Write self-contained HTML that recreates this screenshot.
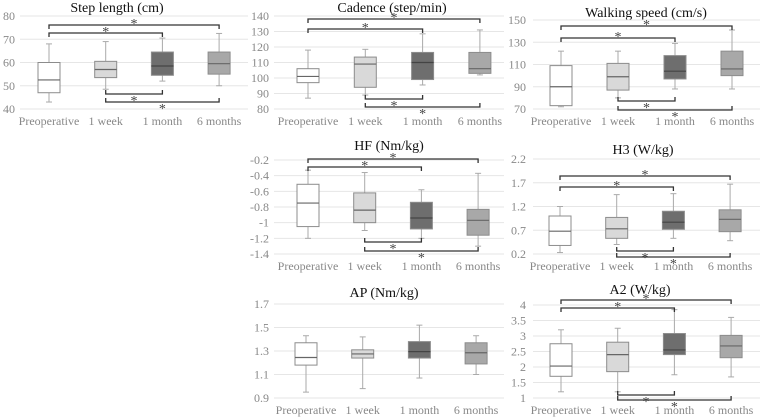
<!DOCTYPE html>
<html><head><meta charset="utf-8"><style>
body{margin:0;background:#fff;}
svg{display:block;}
svg text{font-family:"Times New Roman","Liberation Serif","Tinos","DejaVu Serif",serif;}
</style></head><body>
<svg id="c" width="762" height="419"></svg>
<script>
const categories=["Preoperative","1 week","1 month","6 months"];
// per panel: [min, q1, median, q3, max] per category
const stepLen=[[43,47,52.5,60,68],[48.5,53.5,57,60.5,69],[52,54.5,58.5,64.5,70.5],[50,55,59.5,64.5,72.5]];
const cadence=[[87,97,101,106,118],[89,94,109,113.5,118.5],[95.5,99,110,116.5,128.5],[102,103,106,116.5,131]];
const speed=[[72,73,90,109,122],[80,87,99,111,122],[88,97,104,118,129],[88,100,106,122,141]];
const hf=[[-1.2,-1.05,-0.75,-0.51,-0.33],[-1.1,-1.0,-0.84,-0.62,-0.36],[-1.2,-1.08,-0.94,-0.74,-0.58],[-1.3,-1.16,-0.97,-0.83,-0.37]];
const h3=[[0.23,0.38,0.68,1.0,1.2],[0.4,0.53,0.73,0.97,1.45],[0.53,0.72,0.87,1.1,1.47],[0.48,0.67,0.93,1.13,1.67]];
const ap=[[0.95,1.18,1.245,1.37,1.43],[0.98,1.24,1.275,1.31,1.42],[1.07,1.24,1.295,1.38,1.52],[1.1,1.19,1.285,1.37,1.43]];
const a2=[[1.2,1.7,2.03,2.75,3.2],[1.2,1.85,2.4,2.8,3.25],[1.75,2.4,2.55,3.08,3.85],[1.68,2.3,2.68,3.02,3.6]];
const ticksStep=[40,50,60,70,80];
const ticksCad=[80,90,100,110,120,130,140];
const ticksSpeed=[70,90,110,130,150];
const ticksHF=[-1.4,-1.2,-1,-0.8,-0.6,-0.4,-0.2];
const ticksH3=[0.2,0.7,1.2,1.7,2.2];
const ticksAP=[0.9,1.1,1.3,1.5,1.7];
const ticksA2=[1,1.5,2,2.5,3,3.5,4];
const fills=["#ffffff","#d9d9d9","#6e6e6e","#a8a8a8"];

const panels=[
 {name:"step-length",title:"Step length (cm)",data:stepLen,ticks:ticksStep,x0:49,dx:56.7,yTop:16,yBot:109,tx:117,ty:11,gl:20,gr:248,lx:15,
  br:[[0,3,25,1],[0,2,33,1],[1,2,94,0],[1,3,102,0]]},
 {name:"cadence",title:"Cadence (step/min)",data:cadence,ticks:ticksCad,x0:308,dx:57.3,yTop:16,yBot:109,tx:392,ty:11,gl:274,gr:504,lx:269,
  br:[[0,3,19,1],[0,2,29,1],[1,2,99,0],[1,3,107,0]]},
 {name:"walking-speed",title:"Walking speed (cm/s)",data:speed,ticks:ticksSpeed,x0:561,dx:57,yTop:20,yBot:109,tx:646,ty:16,gl:533,gr:760,lx:526,
  br:[[0,3,26,1],[0,2,38,1],[1,2,101,0],[1,3,110,0]]},
 {name:"hf",title:"HF (Nm/kg)",data:hf,ticks:ticksHF,x0:308,dx:56.7,yTop:160,yBot:254,tx:389,ty:149,gl:274,gr:504,lx:269,
  br:[[0,3,159,1],[0,2,167,1],[1,2,242,0],[1,3,251,0]]},
 {name:"h3",title:"H3 (W/kg)",data:h3,ticks:ticksH3,x0:560,dx:56.7,yTop:159,yBot:254,tx:643,ty:153,gl:533,gr:760,lx:526,
  br:[[0,3,176,1],[0,2,187,1],[1,2,251,0],[1,3,257,0]]},
 {name:"ap",title:"AP (Nm/kg)",data:ap,ticks:ticksAP,x0:306,dx:56.7,yTop:304,yBot:398,tx:384,ty:296,gl:274,gr:504,lx:269,br:[]},
 {name:"a2",title:"A2 (W/kg)",data:a2,ticks:ticksA2,x0:561,dx:56.7,yTop:305,yBot:398,tx:640,ty:293,gl:533,gr:760,lx:526,
  br:[[0,3,300,1],[0,2,308,1],[1,2,395,0],[1,3,400,0]]}
];
const svg=document.getElementById('c');
const NS="http://www.w3.org/2000/svg";
function mk(tag,attrs,parent){const e=document.createElementNS(NS,tag);for(const k in attrs)e.setAttribute(k,attrs[k]);parent.appendChild(e);return e;}
panels.forEach(p=>{
 const g=mk('g',{},svg);
 
 
 const t0=p.ticks[0],t1=p.ticks[p.ticks.length-1];
 const y=v=>p.yBot-(v-t0)/(t1-t0)*(p.yBot-p.yTop);
 const x=i=>p.x0+i*p.dx;
 const tt=mk('text',{x:p.tx,y:p.ty+1,'text-anchor':'middle','font-size':14,fill:'#111'},g);tt.textContent=p.title;
 
 
 p.ticks.forEach(v=>{
  const gl=mk('line',{x1:p.gl,x2:p.gr,y1:y(v),y2:y(v),stroke:'#e6e6e6','stroke-width':1},g);
  
  
  const tl=mk('text',{x:p.lx,y:y(v)+4,'text-anchor':'end','font-size':12,fill:'#888'},g);tl.textContent=String(v);
  
  
 });
 p.data.forEach((d,i)=>{
  const cx=x(i),w=22;
  const wh=mk('line',{x1:cx,x2:cx,y1:y(d[0]),y2:y(d[4]),stroke:'#aaa','stroke-width':1},g);
  
  
  [d[0],d[4]].forEach(v=>{const c=mk('line',{x1:cx-3,x2:cx+3,y1:y(v),y2:y(v),stroke:'#aaa'},g);
   
   });
  const b=mk('rect',{x:cx-w/2,y:y(d[3]),width:w,height:y(d[1])-y(d[3]),fill:fills[i],stroke:'#8c8c8c','stroke-width':1},g);
  
  
  const m=mk('line',{x1:cx-w/2,x2:cx+w/2,y1:y(d[2]),y2:y(d[2]),stroke:i==2?'#444':'#666','stroke-width':1.2},g);
  
  
  const cl=mk('text',{x:cx,y:p.yBot+16,'text-anchor':'middle','font-size':12,fill:'#888'},g);cl.textContent=categories[i];
  
  
 });
 p.br.forEach(b=>{
  const xa=x(b[0]),xb=x(b[1]),yy=b[2],top=b[3];
  const tk=top?4:-4;
  const pl=mk('polyline',{points:`${xa},${yy+tk} ${xa},${yy} ${xb},${yy} ${xb},${yy+tk}`,fill:'none',stroke:'#333','stroke-width':1.3},g);
  
  
  const st=mk('text',{x:(xa+xb)/2,y:top?yy+3:yy+11,'text-anchor':'middle','font-size':14,fill:'#444'},g);st.textContent='*';
  
  
 });
});
</script>
</body></html>
